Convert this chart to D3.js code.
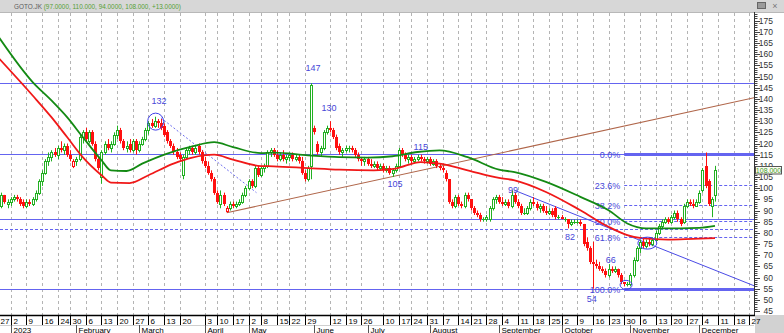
<!DOCTYPE html>
<html>
<head>
<meta charset="utf-8">
<script src="https://cdn.jsdelivr.net/npm/d3@7"></script>
<style>
  html, body { margin: 0; padding: 0; background: #fff; }
  svg { display: block; font-family: "Liberation Sans", Arial, sans-serif; }
</style>
</head>
<body>
<svg id="chart" width="784" height="333"></svg>
<script>
// ---- data --------------------------------------------------------------
var symbol = "GOTO.JK";
var firstDay = "2022-12-27", lastDay = "2023-12-29";
var holidays = ["2022-12-26", "2023-01-23", "2023-03-22", "2023-03-23", "2023-04-07",
  "2023-04-19", "2023-04-20", "2023-04-21", "2023-04-24", "2023-04-25", "2023-05-01",
  "2023-05-18", "2023-06-01", "2023-06-02", "2023-06-28", "2023-06-29", "2023-06-30",
  "2023-07-19", "2023-08-17", "2023-09-28", "2023-12-25", "2023-12-26"];
var monthNames = ["2023", "February", "March", "April", "May", "June", "July",
  "August", "September", "October", "November", "December"];

// daily candles, one per trading day starting 27 Dec 2022
var opens = [
  91,92,97,93,94,95,96,95,94,92, 94,93,95,98,103,107,112,114,116,115,
  118,117,119,115,110,112,113,123,125,121, 125,120,113,105,116,120,118,120,124,126,
  121,118,120,117,121,117,120,122,126,129, 128,130,129,128,125,121,119,116,115,106,
  114,117,118,116,119,116,112,110,107,104, 98,93,97,90,91,93,92,93,94,97,
  100,103,101,109,106,109,110,116,117,115, 113,115,113,114,115,113,114,112,107,104,
  110,127,120,116,118,125,127,126,123,119, 116,117,118,118,117,115,113,112,113,111,
  110,111,109,110,108,109,107,108,110,117, 115,113,114,112,113,114,113,112,113,111,
  112,110,109,107,104,94,92,96,93,92, 97,95,91,89,88,86,86,86,91,95,
  96,94,93,94,92,97,94,92,89,89, 91,94,93,91,92,90,89,90,91,87,
  87,86,86,84,85,85,85,84,76,73, 67,66,65,64,63,61,64,63,64,61,
  58,57,57,61,68,73,76,74,76,75, 77,80,83,85,86,85,87,89,86,85,
  92,94,93,92,94,99,110,103,92,97];
var highs = [
  93,98,97,95,96,97,97,96,95,95, 95,96,99,104,108,113,116,117,118,119,
  121,120,120,117,113,114,124,126,127,126, 126,121,114,117,121,122,121,125,128,127,
  122,121,122,122,122,121,123,127,130,131, 132,131,131,129,126,122,120,118,116,115,
  118,119,119,119,120,117,114,112,108,105, 99,99,98,92,94,94,94,95,98,101,
  104,104,110,110,110,111,117,118,118,117, 116,117,115,116,116,115,115,114,108,110,
  147,128,121,119,126,128,130,127,124,120, 118,119,119,119,118,116,114,114,114,113,
  112,112,111,111,110,110,109,111,118,118, 116,115,115,114,115,115,114,114,114,113,
  113,111,110,108,104,95,97,97,94,98, 98,95,92,90,89,87,88,92,96,97,
  97,96,95,95,99,98,95,93,91,92, 95,96,94,93,93,92,91,91,92,88,
  88,87,86,86,86,86,86,84,78,74, 76,68,67,65,64,66,65,65,64,62,
  58,58,62,69,74,77,78,77,78,78, 81,84,86,87,87,88,90,90,87,93,
  95,95,95,95,99,109,116,104,96,110];
var lows = [
  90,91,93,91,92,94,94,92,91,91, 92,92,94,97,101,106,110,112,114,113,
  116,115,114,112,109,110,112,120,121,120, 119,112,108,102,115,117,116,119,122,120,
  117,116,116,116,115,116,119,121,124,127, 127,127,126,123,120,118,115,113,112,104,
  113,115,115,115,115,111,109,106,103,97, 93,91,92,89,90,91,91,92,93,96,
  99,100,100,105,105,107,109,114,114,112, 112,112,111,112,112,112,111,106,103,103,
  104,124,115,114,117,124,125,122,117,115, 114,116,116,116,114,112,110,110,110,109,
  109,108,108,107,107,106,105,107,109,114, 112,111,111,111,112,112,111,111,110,110,
  109,108,107,103,93,91,91,92,91,91, 94,90,88,87,85,85,85,85,90,93,
  93,92,92,91,91,93,91,88,88,88, 90,92,90,89,89,88,88,87,86,86,
  86,85,82,83,84,84,83,74,72,66, 55,64,63,62,60,60,62,62,60,57,
  56,56,56,60,67,71,73,73,74,74, 76,79,82,84,84,84,86,85,83,84,
  91,92,91,92,93,98,100,92,87,94];
var closes = [
  92,97,94,94,95,96,95,93,92,94, 93,95,98,103,107,112,114,116,115,118,
  117,119,115,113,112,113,123,125,122,125, 120,113,109,116,120,118,120,124,126,121,
  118,119,117,121,117,120,122,126,129,128, 130,129,127,124,121,119,116,114,113,114,
  117,118,116,118,116,112,110,107,104,98, 94,97,93,91,93,92,93,94,97,100,
  103,101,109,106,109,110,116,117,115,113, 115,113,114,115,113,114,112,107,104,109,
  146,125,116,118,125,127,126,123,118,116, 117,118,118,117,115,113,112,113,111,110,
  111,109,110,108,109,107,108,110,117,115, 113,114,112,113,114,113,112,113,111,112,
  110,109,108,104,94,92,96,93,92,97, 95,91,89,88,86,86,87,91,95,96,
  94,93,94,92,97,94,92,89,89,91, 94,93,91,92,90,89,90,88,87,87,
  86,86,84,85,85,85,84,75,73,67, 66,65,64,63,61,64,63,64,61,58,
  57,57,61,68,73,76,74,76,75,77, 80,83,85,86,85,87,89,86,84,92,
  94,93,92,94,98,108,101,93,95,108];

// moving averages (trading-day index, value)
var maGreenIdx = [0,11,17,22,27,33,36,41,46,54,62,69,75,84,88,99,109,118,126,134,141,150,160,165,175,186,195,201,207,218,224,229];
var maGreenVal = [168,147.5,139.3,131.8,122.9,112.5,108,107.7,111,115.5,118.7,120.6,118.4,115.7,115.9,114.7,113.9,113.7,114.3,116.2,116.9,113.9,108.3,107.2,102.8,96.1,90.1,84.2,82,82,82.2,83.1];
var maRedIdx = [0,11,17,22,27,33,36,42,48,56,62,69,75,84,88,99,109,120,127,135,141,150,160,165,175,186,195,201,206,214,222,229];
var maRedVal = [158.5,141.5,131.8,122.9,113.9,105.8,102.5,102.3,105.8,111,113.7,115,112.8,109.9,109.8,109,108.3,108,108.8,111.7,111,108,104.6,103.5,98.3,90.1,82.7,79,77.5,77,77.3,77.6];

// drawing objects
var levels = [147, 115.5, 86, 55];
var dashedLevels = [81.5];
var fibHigh = 115.5, fibLow = 55, fibStart = 200;
var fibRatios = [0, 0.236, 0.382, 0.5, 0.618, 1];
var trendBrown = [[73, 89], [241.5, 140.5]];
var trendBlue = [[165, 99], [241.5, 56.3]];
var trendDotted = [[52, 131.5], [82.5, 98]];
var circleIdx = [50.3, 200.6, 207.4];
var circleVal = [129.8, 56.7, 75.4];
var noteIdx = [51.4, 100.6, 105.7, 135, 126.8, 164.5, 182.7, 195.7, 189.6];
var noteVal = [132, 147, 130, 115, 105, 99, 82, 66, 54];
var noteText = ["132", "147", "130", "115", "105", "99", "82", "66", "54"];

// ---- layout ------------------------------------------------------------
var plot = { left: 0, right: 754, top: 12, bottom: 315 };
var blue = "#6464f0", labelBlue = "#4646d8";
var noteDy = [-12.4, -11.9, -10, -4.4, 10.3, 2.4, 12, -1.6, 10.6];
var svg = d3.select("#chart");

var fmt = d3.timeFormat("%Y-%m-%d");
var hol = new Set(holidays);
var parse = d3.timeParse("%Y-%m-%d");
var days = d3.timeDay.range(parse(firstDay), d3.timeDay.offset(parse(lastDay), 1))
  .filter(function(d) { return d.getDay() !== 0 && d.getDay() !== 6 && !hol.has(fmt(d)); });

var x = d3.scaleLinear().domain([0, 240]).range([-1.8, -1.8 + 240 * 3.13]);
var y = d3.scaleLinear().domain([45, 175]).range([311, 20.7]);

svg.append("defs").append("clipPath").attr("id", "plotClip")
  .append("rect").attr("x", plot.left).attr("y", plot.top)
  .attr("width", plot.right - plot.left).attr("height", plot.bottom - plot.top);

// week ticks: first trading day of a week, skipped when too close to the previous one
var weekTicks = [], last = -99;
days.forEach(function(d, k) {
  var isStart = k === 0 || +d3.timeMonday.floor(d) !== +d3.timeMonday.floor(days[k - 1]);
  if (isStart && k - last >= 4) { weekTicks.push(k); last = k; }
});
var monthTicks = [];
days.forEach(function(d, k) {
  if (k > 0 && d.getMonth() !== days[k - 1].getMonth()) monthTicks.push(k);
});

// title bar
svg.append("rect").attr("x", 0).attr("y", 0).attr("width", 784).attr("height", 12).attr("fill", "#d7d7d7");
svg.append("line").attr("x1", 0).attr("x2", 784).attr("y1", 12.5).attr("y2", 12.5).attr("stroke", "#b8b8b8");
var n = closes.length - 1;
var f6 = d3.format(".6r"), f6s = d3.format("+.6r");
var title = svg.append("text").attr("x", 14).attr("y", 9).attr("font-size", 6.4);
title.append("tspan").attr("fill", "#5c5c5c").text(symbol + " ");
title.append("tspan").attr("fill", "#55a035")
  .text("(" + [f6(opens[n]), f6(highs[n]), f6(lows[n]), f6(closes[n])].join(", ") + ", " + f6s(closes[n] - closes[n - 1]) + ")");
svg.append("rect").attr("x", 757.5).attr("y", 2.5).attr("width", 8).attr("height", 6)
  .attr("fill", "#9a9a9a").attr("stroke", "#666");
svg.append("text").attr("x", 775).attr("y", 9).attr("font-size", 9).attr("fill", "#777")
  .attr("text-anchor", "middle").text("\u00d7");

// vertical grid
svg.append("g").selectAll("line").data(weekTicks).join("line")
  .attr("x1", function(k) { return Math.round(x(k)) + 0.5; })
  .attr("x2", function(k) { return Math.round(x(k)) + 0.5; })
  .attr("y1", plot.top + 1).attr("y2", plot.bottom)
  .attr("stroke", "#b4b4b4").attr("stroke-dasharray", "3,3");

var g = svg.append("g").attr("clip-path", "url(#plotClip)");

// horizontal levels
g.selectAll(".lvl").data(levels).join("line").attr("class", "lvl")
  .attr("x1", plot.left).attr("x2", plot.right)
  .attr("y1", function(v) { return Math.round(y(v)) + 0.5; })
  .attr("y2", function(v) { return Math.round(y(v)) + 0.5; })
  .attr("stroke", blue).attr("stroke-width", 1.2);
g.selectAll(".dlvl").data(dashedLevels).join("line").attr("class", "dlvl")
  .attr("x1", plot.left).attr("x2", plot.right)
  .attr("y1", function(v) { return Math.round(y(v)) + 0.5; })
  .attr("y2", function(v) { return Math.round(y(v)) + 0.5; })
  .attr("stroke", blue).attr("stroke-dasharray", "3,2");

// fibonacci retracement
fibRatios.forEach(function(r) {
  var v = fibHigh - (fibHigh - fibLow) * r;
  var yy = Math.round(y(v)) + 0.5;
  var solid = r === 0 || r === 1;
  g.append("line").attr("x1", x(fibStart)).attr("x2", plot.right).attr("y1", yy).attr("y2", yy)
    .attr("stroke", blue).attr("stroke-width", solid ? 3 : 1)
    .attr("stroke-dasharray", solid ? null : "3,2");
  g.append("text").attr("x", x(fibStart) - 4).attr("y", yy + 3).attr("font-size", 9)
    .attr("text-anchor", "end").attr("fill", labelBlue).text(d3.format(".1f")(r * 100) + "%");
});

// trendlines
var seg = d3.line().x(function(d) { return x(d[0]); }).y(function(d) { return y(d[1]); });
g.append("path").attr("d", seg(trendBrown)).attr("fill", "none").attr("stroke", "#b0664a").attr("stroke-width", 1.1);
g.append("path").attr("d", seg(trendBlue)).attr("fill", "none").attr("stroke", "#4a4ae6").attr("stroke-width", 1);
g.append("path").attr("d", seg(trendDotted)).attr("fill", "none").attr("stroke", "#6f6ff0")
  .attr("stroke-width", 1).attr("stroke-dasharray", "2,2");

// candles
var green = "#22b022", red = "#ff1010";
closes.forEach(function(c, k) {
  var o = opens[k], prev = k > 0 ? closes[k - 1] : o;
  var col = c >= prev ? green : red;
  var cx = Math.round(x(k));
  var top = Math.round(y(Math.max(o, c))), bot = Math.round(y(Math.min(o, c)));
  g.append("line").attr("x1", cx + 0.5).attr("x2", cx + 0.5)
    .attr("y1", y(highs[k])).attr("y2", y(lows[k])).attr("stroke", col);
  if (c > o) {
    g.append("rect").attr("x", cx - 0.5).attr("y", top + 0.5).attr("width", 2)
      .attr("height", Math.max(1, bot - top)).attr("fill", "#fff").attr("stroke", col);
  } else {
    g.append("rect").attr("x", cx - 1).attr("y", top).attr("width", 3)
      .attr("height", Math.max(1, bot - top)).attr("fill", col);
  }
});

// moving averages
var maLine = d3.line().curve(d3.curveMonotoneX)
  .x(function(d) { return x(d[0]); }).y(function(d) { return y(d[1]); });
g.append("path").attr("d", maLine(d3.zip(maGreenIdx, maGreenVal)))
  .attr("fill", "none").attr("stroke", "#138a13").attr("stroke-width", 1.8);
g.append("path").attr("d", maLine(d3.zip(maRedIdx, maRedVal)))
  .attr("fill", "none").attr("stroke", "#f01818").attr("stroke-width", 1.8);

// circles
var radii = [[8, 8.5], [6, 4.5], [9.5, 6]];
circleIdx.forEach(function(k, i) {
  g.append("ellipse").attr("cx", x(k)).attr("cy", y(circleVal[i]))
    .attr("rx", radii[i][0]).attr("ry", radii[i][1])
    .attr("fill", "none").attr("stroke", "#4040e8").attr("stroke-width", 1);
});

// value notes
noteText.forEach(function(t, i) {
  g.append("text").attr("x", x(noteIdx[i])).attr("y", y(noteVal[i]) + noteDy[i])
    .attr("font-size", 9).attr("text-anchor", "middle").attr("fill", labelBlue).text(t);
});

// right price axis
svg.append("line").attr("x1", plot.right + 0.5).attr("x2", plot.right + 0.5)
  .attr("y1", plot.top).attr("y2", plot.bottom).attr("stroke", "#333");
var tickVals = d3.range(45, 179);
svg.append("g").selectAll("line").data(tickVals).join("line")
  .attr("x1", plot.right + 1).attr("x2", function(v) { return plot.right + (v % 5 === 0 ? 6 : 3.5); })
  .attr("y1", function(v) { return Math.round(y(v)) + 0.5; })
  .attr("y2", function(v) { return Math.round(y(v)) + 0.5; })
  .attr("stroke", "#444");
svg.append("g").selectAll("text").data(d3.range(45, 180, 5)).join("text")
  .attr("x", 773).attr("y", function(v) { return y(v) + 3; })
  .attr("font-size", 8.5).attr("text-anchor", "end").attr("fill", "#333")
  .text(function(v) { return v; });
// last price box
var yl = Math.round(y(closes[n]));
svg.append("rect").attr("x", 755.5).attr("y", yl - 3.5).attr("width", 26).attr("height", 7.5)
  .attr("fill", "#fbfbf0").attr("stroke", "#555");
svg.append("text").attr("x", 768.5).attr("y", yl + 2.6).attr("font-size", 7)
  .attr("text-anchor", "middle").attr("fill", "#3a9a2a").text(d3.format(".3f")(closes[n]));

// date axis
svg.append("rect").attr("x", 0).attr("y", plot.bottom).attr("width", plot.right).attr("height", 18).attr("fill", "#fff");
svg.append("rect").attr("x", plot.right + 1).attr("y", plot.bottom).attr("width", 784 - plot.right).attr("height", 18).attr("fill", "#d2d2d2");
svg.append("line").attr("x1", 0).attr("x2", plot.right + 1).attr("y1", plot.bottom + 0.5).attr("y2", plot.bottom + 0.5)
  .attr("stroke", "#000").attr("stroke-width", 1.5);
svg.append("line").attr("x1", 0).attr("x2", plot.right).attr("y1", 325.5).attr("y2", 325.5).attr("stroke", "#cfcfcf");
var wk = svg.append("g");
weekTicks.forEach(function(k) {
  var xx = Math.round(x(k)) + 0.5;
  wk.append("line").attr("x1", xx).attr("x2", xx).attr("y1", plot.bottom).attr("y2", 325).attr("stroke", "#000");
  wk.append("text").attr("x", xx + 2).attr("y", 323.5).attr("font-size", 8).attr("fill", "#000")
    .text(days[k].getDate());
});
var mo = svg.append("g");
monthTicks.forEach(function(k) {
  var xx = Math.round(x(k)) + 0.5;
  mo.append("line").attr("x1", xx).attr("x2", xx).attr("y1", 325).attr("y2", 333).attr("stroke", "#555");
  mo.append("text").attr("x", xx + 2).attr("y", 332.5).attr("font-size", 8).attr("fill", "#000")
    .text(monthNames[days[k].getMonth()]);
});
</script>
</body>
</html>
